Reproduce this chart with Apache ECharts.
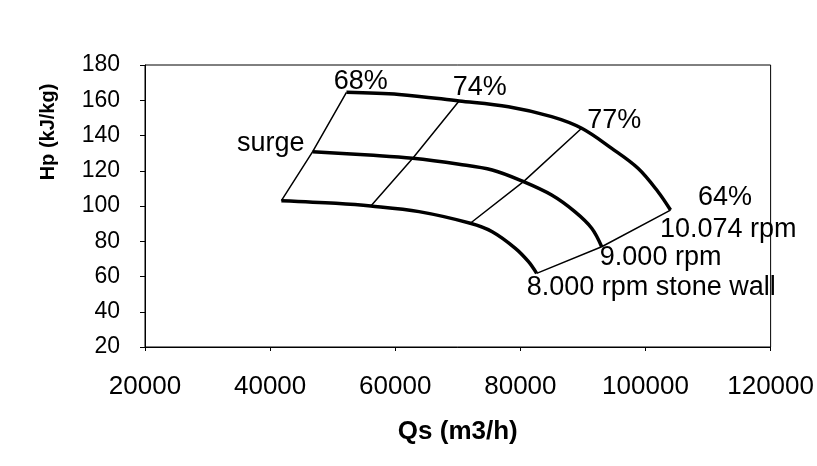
<!DOCTYPE html>
<html><head><meta charset="utf-8">
<script src="https://cdn.jsdelivr.net/npm/echarts@6/dist/echarts.min.js"></script>
<style>html,body{margin:0;padding:0;background:#fff}#c{width:817px;height:466px}</style>
</head><body><div id="c"></div>
<script>
// Axis ticks
const xTicks = [20000, 40000, 60000, 80000, 100000, 120000];
const yTicks = [20, 40, 60, 80, 100, 120, 140, 160, 180];

// Speed curves (Qs in m3/h, Hp in kJ/kg)
const rpm8000Q  = [41800, 50500, 56100, 63800, 72000, 75500, 79200, 81300, 82600];
const rpm8000H  = [103.0, 101.5, 100.0, 96.8, 90.2, 85.4, 76.0, 68.4, 61.8];
const rpm9000Q  = [46800, 55800, 62800, 70200, 75500, 80500, 85000, 88700, 91400, 93000];
const rpm9000H  = [130.8, 128.9, 127.1, 123.7, 120.4, 113.8, 106.2, 96.8, 87.4, 76.9];
const rpm10074Q = [52200, 60600, 70200, 78100, 85000, 89800, 94600, 98800, 102000, 104000];
const rpm10074H = [164.5, 163.3, 159.6, 156.3, 150.7, 144.1, 132.7, 121.4, 108.1, 97.7];

// Efficiency lines (8000 / 9000 / 10074 rpm intersections)
const eff68Q = [41800, 46800, 52200];   const eff68H = [103.0, 130.8, 164.5];
const eff74Q = [56100, 62800, 70200];   const eff74H = [100.0, 127.1, 159.6];
const eff77Q = [72000, 80500, 89800];   const eff77H = [90.2, 113.8, 144.1];
const eff64Q = [82600, 93000, 104000];  const eff64H = [61.8, 76.9, 97.7];

// Annotations
const annoText  = ['68%', '74%', '77%', '64%', '10.074 rpm', '9.000 rpm', '8.000 rpm stone wall', 'surge'];
const annoQ     = [54500, 73500, 95000, 112700, 102300, 92700, 81000, 45500];
const annoH     = [170.5, 167.0, 148.3, 104.9, 86.8, 70.9, 53.9, 135.2];
const annoAlign = ['center', 'center', 'center', 'center', 'left', 'left', 'left', 'right'];

const FONT = "'Liberation Sans', Arial, sans-serif";
const zip = (a, b) => a.map((v, i) => [v, b[i]]);

function curve(name, q, h) {
  return { name, type: 'line', data: zip(q, h), smooth: 0.35, showSymbol: false, silent: true,
    lineStyle: { color: '#000', width: 3.5 }, z: 3 };
}
function effLine(name, q, h) {
  return { name, type: 'line', data: zip(q, h), smooth: false, showSymbol: false, silent: true,
    lineStyle: { color: '#000', width: 1.5 }, z: 2 };
}

const chart = echarts.init(document.getElementById('c'));
chart.setOption({
  animation: false,
  backgroundColor: '#fff',
  grid: { left: 145, right: 44, top: 65, bottom: 119, show: true, borderColor: '#000', borderWidth: 1, backgroundColor: 'transparent' },
  xAxis: {
    type: 'value', min: xTicks[0], max: xTicks[xTicks.length - 1], interval: xTicks[1] - xTicks[0],
    splitLine: { show: false },
    axisLine: { lineStyle: { color: '#000', width: 1 } },
    axisTick: { show: true, length: 4, lineStyle: { color: '#000' } },
    axisLabel: { color: '#000', fontSize: 26, fontFamily: FONT, margin: 27, showMaxLabel: true,
      formatter: v => String(v) },
    name: 'Qs (m3/h)', nameLocation: 'middle', nameGap: 72,
    nameTextStyle: { color: '#000', fontSize: 26, fontWeight: 'bold', fontFamily: FONT }
  },
  yAxis: {
    type: 'value', min: yTicks[0], max: yTicks[yTicks.length - 1], interval: yTicks[1] - yTicks[0],
    splitLine: { show: false },
    axisLine: { show: true, lineStyle: { color: '#000', width: 1 } },
    axisTick: { show: true, length: 5, lineStyle: { color: '#000' } },
    axisLabel: { color: '#000', fontSize: 23, fontFamily: FONT, margin: 25, formatter: v => String(v) }
  },
  graphic: [{
    type: 'text', x: 48, y: 132, rotation: Math.PI / 2,
    style: { text: 'Hp (kJ/kg)', fill: '#000', font: 'bold 20px ' + FONT, align: 'center', verticalAlign: 'middle' }
  }],
  series: [
    curve('8.000 rpm', rpm8000Q, rpm8000H),
    curve('9.000 rpm', rpm9000Q, rpm9000H),
    curve('10.074 rpm', rpm10074Q, rpm10074H),
    effLine('68%', eff68Q, eff68H),
    effLine('74%', eff74Q, eff74H),
    effLine('77%', eff77Q, eff77H),
    effLine('64%', eff64Q, eff64H),
    {
      name: 'labels', type: 'scatter', silent: true, symbolSize: 0.1,
      itemStyle: { color: 'rgba(0,0,0,0)', opacity: 1 }, z: 5,
      label: { show: true, position: 'inside', color: '#000', opacity: 1, fontSize: 27, fontFamily: FONT, verticalAlign: 'middle',
        formatter: p => annoText[p.dataIndex] },
      data: annoQ.map((q, i) => ({ value: [q, annoH[i]], label: { align: annoAlign[i] } }))
    }
  ]
});
</script>
</body></html>
